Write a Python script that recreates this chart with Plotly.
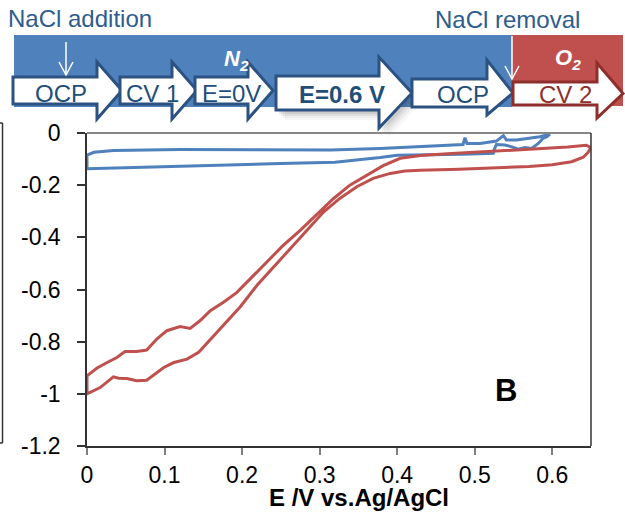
import plotly.graph_objects as go

# ---------------- data ----------------
blue_v = [0.000, 0.000, 0.009, 0.034, 0.120, 0.200, 0.314, 0.378, 0.442, 0.485, 0.4875, 0.490,
          0.507, 0.528, 0.537, 0.541, 0.554, 0.571, 0.584, 0.597,
          0.593, 0.588, 0.582, 0.5735, 0.565, 0.556, 0.548, 0.539, 0.528, 0.525, 0.524,
          0.485, 0.421, 0.400, 0.378, 0.357, 0.320, 0.250, 0.163, 0.100, 0.034, 0.000]
blue_i = [-0.137, -0.085, -0.074, -0.067, -0.063, -0.064, -0.065, -0.059, -0.049, -0.044, -0.018, -0.040,
          -0.040, -0.031, -0.010, -0.027, -0.027, -0.021, -0.014, -0.005,
          -0.014, -0.021, -0.040, -0.059, -0.056, -0.062, -0.053, -0.046, -0.044, -0.065, -0.078,
          -0.081, -0.082, -0.085, -0.094, -0.101, -0.112, -0.117, -0.123, -0.128, -0.133, -0.137]

red_v = [0.000, 0.013, 0.026, 0.039, 0.049, 0.064, 0.077, 0.090, 0.103, 0.120, 0.133, 0.146,
         0.159, 0.176, 0.193, 0.210, 0.232, 0.253, 0.275, 0.296, 0.318, 0.339, 0.361, 0.382,
         0.404, 0.430, 0.470, 0.510, 0.550, 0.593, 0.620, 0.644, 0.650, 0.646, 0.640, 0.625,
         0.600, 0.570, 0.520, 0.480, 0.430, 0.410, 0.391, 0.369, 0.348, 0.326, 0.305, 0.284,
         0.262, 0.240, 0.219, 0.198, 0.172, 0.144, 0.129, 0.112, 0.099, 0.077, 0.064, 0.0515,
         0.041, 0.034, 0.017, 0.000, 0.000]
red_i = [-0.931, -0.901, -0.880, -0.860, -0.838, -0.838, -0.832, -0.790, -0.758, -0.742, -0.749, -0.719,
         -0.681, -0.649, -0.612, -0.561, -0.496, -0.431, -0.373, -0.315, -0.251, -0.200, -0.162, -0.125,
         -0.097, -0.086, -0.079, -0.072, -0.065, -0.059, -0.054, -0.047, -0.056, -0.075, -0.093, -0.110,
         -0.122, -0.128, -0.135, -0.139, -0.143, -0.146, -0.155, -0.174, -0.206, -0.251, -0.303, -0.372,
         -0.445, -0.520, -0.585, -0.665, -0.750, -0.841, -0.867, -0.880, -0.899, -0.948, -0.950, -0.941,
         -0.940, -0.935, -0.976, -1.000, -0.931]

x_ticks = [0, 0.1, 0.2, 0.3, 0.4, 0.5, 0.6]
x_tick_text = ["0", "0.1", "0.2", "0.3", "0.4", "0.5", "0.6"]
y_ticks = [0, -0.2, -0.4, -0.6, -0.8, -1.0, -1.2]
y_tick_text = ["0", "-0.2", "-0.4", "-0.6", "-0.8", "-1", "-1.2"]

steps = ["OCP", "CV 1", "E=0V", "<b>E=0.6 V</b>", "OCP", "CV 2"]

# ---------------- layout helpers ----------------
W, H = 625, 515
L, R, T, B = 87, 591, 133, 446
FONT = "Liberation Sans, Arial, sans-serif"
BLUE = "#4F81BD"
RED = "#C0504D"
DBLUE = "#2C5282"
DRED = "#8E2F2D"


def P(px, py):
    return ((px - L) / (R - L), (B - py) / (B - T))


def path(points, close=True):
    s = ""
    for k, (px, py) in enumerate(points):
        x, y = P(px, py)
        s += ("M" if k == 0 else "L") + f"{x:.5f},{y:.5f} "
    return s + ("Z" if close else "")


def block_arrow(l, t, b, h, ht, hb, p):
    m = (t + b) / 2
    return [(l, t), (h, t), (h, ht), (p, m), (h, hb), (h, b), (l, b)]


fig = go.Figure()
fig.add_trace(go.Scatter(x=blue_v, y=blue_i, mode="lines",
                         line=dict(color=BLUE, width=3), showlegend=False))
fig.add_trace(go.Scatter(x=red_v, y=red_i, mode="lines",
                         line=dict(color=RED, width=3), showlegend=False))

shapes = []
# banner
shapes.append(dict(type="path", xref="paper", yref="paper", path=path([(14, 35), (512, 35), (512, 107), (14, 107)]),
                   fillcolor=BLUE, line=dict(width=0)))
shapes.append(dict(type="path", xref="paper", yref="paper", path=path([(512, 35), (623, 35), (623, 106), (512, 106)]),
                   fillcolor=RED, line=dict(width=0)))

arrows = [
    (13, 77, 104, 97, 62, 119, 122, DBLUE),
    (120, 77, 104, 172, 62, 119, 197, DBLUE),
    (195, 77, 104, 248, 62, 119, 273, DBLUE),
    (276, 76, 110, 379, 57, 128, 412, DBLUE),
    (412, 79, 107, 487, 60, 115, 513, DBLUE),
    (513, 82, 105, 597, 63, 118, 623, DRED),
]
# soft shadow of the big arrow
a = arrows[3]
for off, op in [(3, 0.10), (5, 0.08), (7, 0.06), (9, 0.04)]:
    sh = [(x + off, y + off + 1) for (x, y) in block_arrow(*a[:7])]
    shapes.append(dict(type="path", xref="paper", yref="paper", path=path(sh),
                       fillcolor=f"rgba(60,60,60,{op})", line=dict(width=0)))
for a in arrows:
    shapes.append(dict(type="path", xref="paper", yref="paper", path=path(block_arrow(*a[:7])),
                       fillcolor="white", line=dict(color=a[7], width=3)))

# thin white down arrows
for (x0, y0, y1) in [(66, 42, 75), (512, 36, 79)]:
    xa, ya = P(x0, y0)
    xb, yb = P(x0, y1)
    shapes.append(dict(type="line", xref="paper", yref="paper", x0=xa, y0=ya, x1=xb, y1=yb,
                       line=dict(color="white", width=1.5)))
    shapes.append(dict(type="path", xref="paper", yref="paper",
                       path=path([(x0 - 7, y1 - 13), (x0, y1), (x0 + 7, y1 - 13)], close=False),
                       line=dict(color="white", width=1.5)))

# frame: top gray, right dark
shapes.append(dict(type="line", xref="paper", yref="paper", x0=0, y0=1, x1=1, y1=1,
                   line=dict(color="#868686", width=2)))
shapes.append(dict(type="line", xref="paper", yref="paper", x0=1, y0=0, x1=1, y1=1,
                   line=dict(color="#333333", width=1.5)))

# remnant of neighbouring panel at the far left
xa, ya = P(2.5, 123)
xb, yb = P(2.5, 443)
shapes.append(dict(type="line", xref="paper", yref="paper", x0=xa, y0=ya, x1=xb, y1=yb,
                   line=dict(color="#333333", width=1.5)))
for yy in (123, 443):
    x0p, y0p = P(0, yy)
    shapes.append(dict(type="line", xref="paper", yref="paper", x0=x0p, y0=y0p, x1=xa, y1=y0p,
                       line=dict(color="#333333", width=1.5)))

annotations = []


def txt(text, px, py, size, color, xanchor="center", bold=False):
    x, y = P(px, py)
    annotations.append(dict(text=f"<b>{text}</b>" if bold else text, x=x, y=y, xref="paper", yref="paper",
                            xanchor=xanchor, yanchor="middle", showarrow=False,
                            font=dict(family=FONT, size=size, color=color)))


TXT = "#2E5C8E"
txt("NaCl addition", 6, 18.5, 24, TXT, xanchor="left")
txt("NaCl removal", 433, 19.5, 24, TXT, xanchor="left")
step_pos = [(61, 93.5), (152.5, 93.5), (231.5, 93.5), (341.5, 94), (462.5, 94), (565, 94)]
for s, (px, py), a in zip(steps, step_pos, arrows):
    txt(s, px, py, 24, "#1F4E79" if a[7] == DBLUE else DRED)
txt("<i>N</i><sub><i>2</i></sub>", 236, 60, 22, "white", bold=True)
txt("<i>O</i><sub><i>2</i></sub>", 568, 59, 22, "white", bold=True)
txt("B", 506, 390, 31, "black", bold=True)
txt("E /V vs.Ag/AgCl", 358.5, 497, 24, "black", bold=True)

fig.update_layout(
    width=W, height=H,
    margin=dict(l=L, r=W - R, t=T, b=H - B),
    paper_bgcolor="white", plot_bgcolor="white",
    font=dict(family=FONT, size=23, color="black"),
    shapes=shapes, annotations=annotations,
    xaxis=dict(range=[0, 0.65], tickvals=x_ticks, ticktext=x_tick_text, showgrid=False, zeroline=False,
               showline=True, linecolor="#333333", linewidth=1.5, ticks="outside", ticklen=7,
               tickcolor="#7f7f7f", tickwidth=1.5, ticklabelstandoff=1),
    yaxis=dict(range=[-1.2, 0], tickvals=y_ticks, ticktext=y_tick_text, showgrid=False, zeroline=False,
               showline=True, linecolor="#333333", linewidth=1.5, ticks="outside", ticklen=8,
               tickcolor="#333333", tickwidth=1.5, ticklabelstandoff=12),
)

fig.write_html("out.html")
